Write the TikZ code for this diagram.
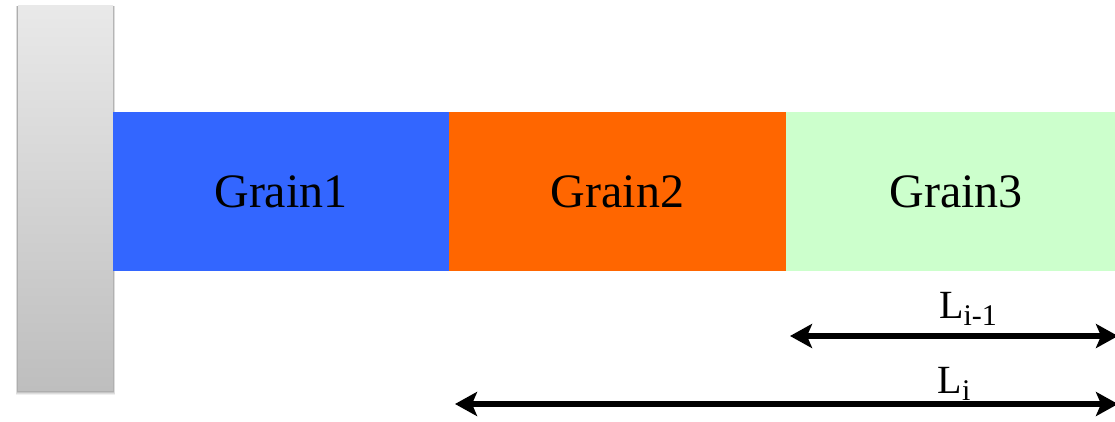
\documentclass[tikz,border=0pt]{standalone}
\usepackage{fontspec}
\setmainfont{Liberation Serif}
\usetikzlibrary{arrows.meta}
\definecolor{grainA}{HTML}{3366FF}
\definecolor{grainB}{HTML}{FF6600}
\definecolor{grainC}{HTML}{CCFFCC}
\definecolor{wallTop}{HTML}{E9E9E9}
\definecolor{wallBot}{HTML}{BEBEBE}
\newcommand{\lowidx}[1]{\raisebox{-7pt}{\fontsize{30}{32}\selectfont #1}}
\tikzset{
  grain/.style={minimum height=159pt, inner sep=0pt, outer sep=0pt, anchor=north west,
    font=\fontsize{48}{52}\selectfont},
  dim/.style={line width=6pt, {Stealth[length=22pt,width=24pt,inset=5pt]}-{Stealth[length=22pt,width=24pt,inset=5pt]}},
  dimlabel/.style={font=\fontsize{40}{42}\selectfont, inner sep=0pt, anchor=base},
}
\begin{document}
\begin{tikzpicture}[x=1pt,y=-1pt]
\useasboundingbox (0,0) rectangle (1115,421);
% wall with soft shadow
\foreach \o/\a in {5/0.06,4/0.08,3/0.1,2/0.12}
  \fill[black,opacity=\a] (18-\o*0.4,6) rectangle (113+\o*0.4,390+\o);
\shade[top color=wallTop, bottom color=wallBot] (18,5) rectangle (113,390);
\node[inner sep=0pt, minimum width=95pt, minimum height=385pt] (wall) at (65.5,197.5) {};
% grains
\node[grain, fill=grainA, minimum width=336pt] (g1) at (113,112) {Grain1};
\node[grain, fill=grainB, minimum width=337pt] (g2) at (449,112) {Grain2};
\node[grain, fill=grainC, minimum width=340pt] (g3) at (786,112) {Grain3};
% dimension arrows
\coordinate (a1) at (790,336);
\coordinate (b1) at (1118,336);
\coordinate (a2) at (455,404);
\coordinate (b2) at (1118,404);
\draw[dim] (a1) -- (b1);
\draw[dim] (a2) -- (b2);
\node[dimlabel] (l1) at (968,318) {L\lowidx{i-1}};
\node[dimlabel] (l2) at (954,393) {L\lowidx{i}};
\end{tikzpicture}
\end{document}
